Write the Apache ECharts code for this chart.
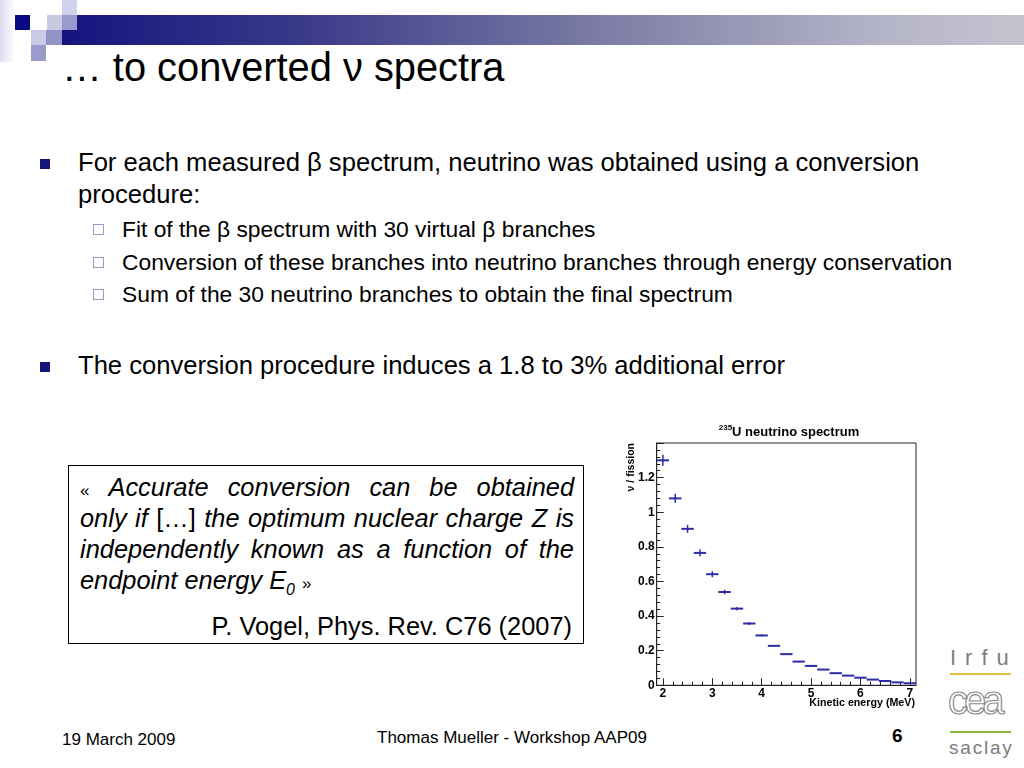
<!DOCTYPE html>
<html><head><meta charset="utf-8">
<script src="https://cdn.jsdelivr.net/npm/echarts@6/dist/echarts.min.js"></script>
<style>
html,body{margin:0;padding:0;background:#fff;}
body{width:1024px;height:768px;position:relative;overflow:hidden;font-family:"Liberation Sans",Arial,sans-serif;color:#000;}
.t{position:absolute;white-space:nowrap;line-height:1;}
.sq{position:absolute;}
.bul{position:absolute;width:10px;height:10px;background:#15157a;}
.sub{position:absolute;width:9px;height:9px;border:1px solid #9a9ac6;background:#fff;}
.q{position:absolute;left:80px;width:494px;font-size:25.4px;line-height:1;text-align:justify;text-align-last:justify;white-space:nowrap;}
.q i{font-style:italic;}
#chart{position:absolute;left:600px;top:405px;width:330px;height:310px;}
</style></head><body>
<!-- header decoration -->
<div class="sq" style="left:0;top:0;width:15px;height:62px;background:linear-gradient(to right,#dcdcee,#fff);"></div>
<div class="sq" style="left:62px;top:15px;width:962px;height:30px;background:linear-gradient(to right,#14147e 0%,#3a3a8a 25%,#7a7aa4 55%,#b4b4c8 85%,#c4c4d0 100%);"></div>
<div class="sq" style="left:15px;top:15px;width:15px;height:15px;background:#0a0a82;"></div>
<div class="sq" style="left:47px;top:15px;width:15px;height:15px;background:#c9c9e2;"></div>
<div class="sq" style="left:62px;top:0px;width:15px;height:15px;background:#d2d2ea;"></div>
<div class="sq" style="left:62px;top:15px;width:15px;height:15px;background:#9a9acc;"></div>
<div class="sq" style="left:31px;top:30px;width:15px;height:15px;background:#cacae4;"></div>
<div class="sq" style="left:46px;top:30px;width:16px;height:15px;background:#9292c4;"></div>
<div class="sq" style="left:31px;top:45px;width:15px;height:16px;background:#9a9acc;"></div>

<div class="t" style="left:62px;top:48px;font-size:39.8px;">… to converted ν spectra</div>

<div class="bul" style="left:40px;top:159px;"></div>
<div class="t" style="left:78px;top:150.3px;font-size:25.6px;">For each measured β spectrum, neutrino was obtained using a conversion</div>
<div class="t" style="left:78px;top:182.3px;font-size:25.6px;">procedure:</div>

<div class="sub" style="left:93px;top:224px;"></div>
<div class="t" style="left:122px;top:217.7px;font-size:22.8px;">Fit of the β spectrum with 30 virtual β branches</div>
<div class="sub" style="left:93px;top:257px;"></div>
<div class="t" style="left:122px;top:250.7px;font-size:22.8px;">Conversion of these branches into neutrino branches through energy conservation</div>
<div class="sub" style="left:93px;top:289px;"></div>
<div class="t" style="left:122px;top:282.7px;font-size:22.8px;">Sum of the 30 neutrino branches to obtain the final spectrum</div>

<div class="bul" style="left:40px;top:362px;"></div>
<div class="t" style="left:78px;top:353.3px;font-size:25.6px;">The conversion procedure induces a 1.8 to 3% additional error</div>

<!-- quote box -->
<div class="sq" style="left:68px;top:465px;width:514px;height:177px;border:1px solid #000;"></div>
<div class="q" style="top:474.5px;"><span style="font-size:17px;">«</span> <i>Accurate conversion can be obtained</i></div>
<div class="q" style="top:505.5px;"><i>only if</i> […] <i>the optimum nuclear charge Z is</i></div>
<div class="q" style="top:536.5px;"><i>independently known as a function of the</i></div>
<div class="q" style="top:567.5px;text-align:left;text-align-last:left;"><i>endpoint energy E<sub style="font-size:16px;">0</sub></i> <span style="font-size:17px;">»</span></div>
<div class="q" style="top:613.5px;left:78px;text-align:right;text-align-last:right;">P. Vogel, Phys. Rev. C76 (2007)</div>

<!-- footer -->
<div class="t" style="left:62px;top:730.6px;font-size:17px;">19 March 2009</div>
<div class="t" style="left:377px;top:728.6px;font-size:17px;">Thomas Mueller - Workshop AAP09</div>
<div class="t" style="left:892px;top:725.9px;font-size:19px;font-weight:bold;">6</div>

<!-- logo -->
<div class="t" style="left:950px;top:647px;font-size:22px;color:#7d7d7d;letter-spacing:9px;">Irfu</div>
<div class="sq" style="left:950px;top:673px;width:61px;height:2px;background:#e6c13c;"></div>
<div class="t" style="left:948px;top:680px;font-size:40px;color:transparent;-webkit-text-stroke:1.2px #8a8a8a;letter-spacing:-4px;font-weight:normal;">cea</div>
<div class="sq" style="left:950px;top:731px;width:61px;height:2px;background:#8db83e;"></div>
<div class="t" style="left:949px;top:738px;font-size:19px;color:#7d7d7d;letter-spacing:1.8px;">saclay</div>

<div id="chart"></div>
<script>
// ---- data ----
const energies = [2.00,2.25,2.50,2.75,3.00,3.25,3.50,3.75,4.00,4.25,4.50,4.75,5.00,5.25,5.50,5.75,6.00,6.25,6.50,6.75,7.00];
const nuPerFission = [1.300,1.080,0.904,0.765,0.642,0.539,0.443,0.357,0.288,0.228,0.180,0.137,0.112,0.091,0.070,0.056,0.044,0.033,0.025,0.017,0.012];
const yErrors = [0.032,0.027,0.023,0.020,0.017,0.013,0.010,0.008,0.005,0.004,0.003,0.002,0.002,0.002,0.001,0.001,0.001,0.001,0.001,0.001,0.001];
const binHalfWidth = 0.125;
const xTickLabels = [2,3,4,5,6,7];
const yTickLabels = [0,0.2,0.4,0.6,0.8,1,1.2];
const chartTitle = '{s|235}{t|U neutrino spectrum}';
const xTitle = 'Kinetic energy (MeV)';
const yTitle = 'ν / fission';

const xMinor = [];
for (let k = 0; k < xTickLabels.length; k++) {
  for (let j = 1; j < 5; j++) xMinor.push(+(xTickLabels[k] + j * 0.2).toFixed(2));
}
const pointData = energies.map((e, i) => [e, nuPerFission[i], binHalfWidth, yErrors[i]]);
const markColor = '#2c2ca6';
const lab = {fontFamily:'Liberation Sans, Arial, sans-serif', fontWeight:'bold', fontSize:12, color:'#000'};

const chart = echarts.init(document.getElementById('chart'));
chart.setOption({
  animation: false,
  backgroundColor: '#fff',
  title: {
    text: chartTitle, left: 184, top: 14, textAlign: 'center',
    textStyle: {
      rich: {
        s: {fontSize: 8, fontWeight: 'bold', fontFamily: lab.fontFamily, color: '#000', verticalAlign: 'top', lineHeight: 15},
        t: {fontSize: 13, fontWeight: 'bold', fontFamily: lab.fontFamily, color: '#000', verticalAlign: 'bottom', lineHeight: 15}
      }
    }
  },
  grid: {left: 56.7, top: 38, width: 259.3, height: 242.3, show: true, borderColor: '#222', borderWidth: 1, backgroundColor: '#fff'},
  xAxis: [{
    type: 'value', min: 1.875, max: 7.125, position: 'bottom',
    axisLine: {show: true, lineStyle: {color: '#222', width: 1}},
    axisTick: {show: true, inside: true, length: 7, customValues: xTickLabels, lineStyle: {color: '#222'}},
    axisLabel: Object.assign({customValues: xTickLabels, margin: 2}, lab),
    splitLine: {show: false}
  }, {
    type: 'value', min: 1.875, max: 7.125, position: 'bottom',
    axisLine: {show: false},
    axisTick: {show: true, inside: true, length: 3.5, customValues: xMinor, lineStyle: {color: '#222'}},
    axisLabel: {show: false},
    splitLine: {show: false}
  }],
  yAxis: {
    type: 'value', min: 0, max: 1.4, interval: 0.2,
    axisLine: {show: true, lineStyle: {color: '#222', width: 1}},
    axisTick: {show: true, inside: true, length: 7, lineStyle: {color: '#222'}},
    minorTick: {show: true, splitNumber: 5, length: 3.5, lineStyle: {color: '#222'}},
    axisLabel: Object.assign({customValues: yTickLabels, margin: 2}, lab),
    splitLine: {show: false}
  },
  graphic: [
    {type: 'text', right: 15, top: 293, style: {text: xTitle, font: 'bold 10.7px "Liberation Sans", Arial, sans-serif', fill: '#000'}},
    {type: 'text', x: 31, y: 38, rotation: Math.PI / 2, style: {text: yTitle, font: 'bold 10.5px "Liberation Sans", Arial, sans-serif', fill: '#000', align: 'right', verticalAlign: 'middle'}}
  ],
  series: [{
    type: 'custom', xAxisIndex: 0, yAxisIndex: 0,
    data: pointData,
    renderItem: function (params, api) {
      const x = api.value(0), y = api.value(1), ex = api.value(2), ey = api.value(3);
      const l = api.coord([x - ex, y]), r = api.coord([x + ex, y]);
      const t = api.coord([x, y + ey]), b = api.coord([x, y - ey]);
      return {type: 'group', children: [
        {type: 'line', shape: {x1: l[0], y1: l[1], x2: r[0], y2: r[1]}, style: {stroke: markColor, lineWidth: 2}},
        {type: 'line', shape: {x1: t[0], y1: t[1], x2: b[0], y2: b[1]}, style: {stroke: markColor, lineWidth: 1.5}}
      ]};
    }
  }]
});
</script>
</body></html>
